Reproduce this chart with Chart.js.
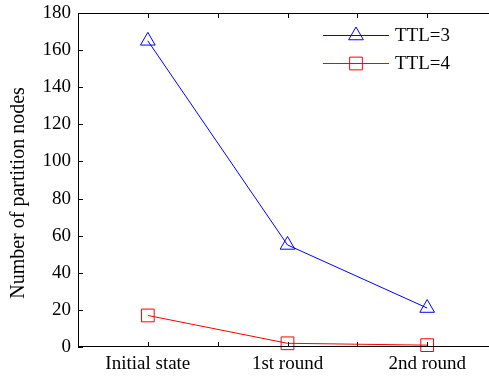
<!DOCTYPE html>
<html>
<head>
<meta charset="utf-8">
<script src="https://cdn.jsdelivr.net/npm/chart.js@4.4.1/dist/chart.umd.min.js"></script>
<style>
html,body{margin:0;padding:0;background:#fff;overflow:hidden;width:489px;height:377px;}
#wrap{width:500px;height:377px;}
</style>
</head>
<body>
<div id="wrap"><canvas id="c" width="500" height="377"></canvas></div>
<script>
const categories = ["Initial state", "1st round", "2nd round"];
const ttl3 = [165, 55, 21];
const ttl4 = [17, 2, 1];
const seriesNames = ["TTL=3", "TTL=4"];
const yTicks = [0, 20, 40, 60, 80, 100, 120, 140, 160, 180];
const xTicks = [-0.5, 0, 0.5, 1, 1.5, 2, 2.5];

const FONT = "'Liberation Serif', 'Times New Roman', serif";

function toPoints(arr){ return arr.map((v,i)=>({x:i,y:v})); }

const inwardTicks = {
  id:'inwardTicks',
  afterDraw(chart){
    const ctx = chart.ctx, a = chart.chartArea;
    const xs = chart.scales.x, ys = chart.scales.y;
    ctx.save();
    ctx.strokeStyle = '#000';
    ctx.lineWidth = 1;
    ctx.beginPath();
    ctx.moveTo(a.left+0.5, a.top+0.5);
    ctx.lineTo(a.right-0.5, a.top+0.5);
    ctx.lineTo(a.right-0.5, a.bottom-0.5);
    ctx.lineTo(a.left+0.5, a.bottom-0.5);
    ctx.closePath();
    ctx.stroke();
    const L = 5;
    ctx.beginPath();
    xs.ticks.forEach(t=>{
      const px = Math.round(xs.getPixelForValue(t.value))+0.5;
      ctx.moveTo(px, a.bottom); ctx.lineTo(px, a.bottom-L);
      ctx.moveTo(px, a.top); ctx.lineTo(px, a.top+L);
    });
    ys.ticks.forEach(t=>{
      const py = Math.round(ys.getPixelForValue(t.value))+0.5;
      ctx.moveTo(a.left, py); ctx.lineTo(a.left+L, py);
      ctx.moveTo(a.right, py); ctx.lineTo(a.right-L, py);
    });
    ctx.stroke();
    ctx.fillStyle = '#000';
    ctx.font = "20px " + FONT;
    ctx.textAlign = 'center';
    ctx.textBaseline = 'middle';
    ctx.translate(19, 193);
    ctx.rotate(-Math.PI/2);
    ctx.fillText('Number of partition nodes', 0, 0);
    ctx.restore();
    ctx.save();
    chart.data.datasets.forEach((ds,i)=>{
      const y = 35 + 28*i + 0.5;
      ctx.strokeStyle = ds.borderColor;
      ctx.lineWidth = 1;
      ctx.beginPath(); ctx.moveTo(323, y); ctx.lineTo(389, y); ctx.stroke();
      ctx.fillStyle = 'rgba(0,0,0,0)';
      Chart.helpers.drawPoint(ctx, {pointStyle: ds.pointStyle, radius: ds.pointRadius, rotation:0, borderWidth:1}, 356, y);
      ctx.fillStyle = '#000';
      ctx.font = "19px " + FONT;
      ctx.textAlign = 'left';
      ctx.textBaseline = 'middle';
      ctx.fillText(ds.label, 395, y+1);
    });
    ctx.restore();
  }
};

new Chart(document.getElementById('c'), {
  type: 'line',
  data: {
    datasets: [
      {label: seriesNames[0], data: toPoints(ttl3), borderColor:'#0000ff', backgroundColor:'rgba(0,0,0,0)',
       borderWidth:1, pointStyle:'triangle', pointRadius:8.5, pointBorderColor:'#0000ff',
       pointBackgroundColor:'rgba(0,0,0,0)', pointBorderWidth:1, tension:0},
      {label: seriesNames[1], data: toPoints(ttl4), borderColor:'#ff0000', backgroundColor:'rgba(0,0,0,0)',
       borderWidth:1, pointStyle:'rect', pointRadius:9, pointBorderColor:'#ff0000',
       pointBackgroundColor:'rgba(0,0,0,0)', pointBorderWidth:1, tension:0}
    ]
  },
  options: {
    responsive:false,
    devicePixelRatio:1,
    animation:false,
    clip:false,
    layout:{autoPadding:false, padding:{top:13, right:3, left:0, bottom:0}},
    plugins:{legend:{display:false}, tooltip:{enabled:false}},
    scales:{
      x:{
        type:'linear', min:-0.5, max:2.5,
        afterBuildTicks(s){ s.ticks = xTicks.map(v=>({value:v})); },
        afterFit(s){ s.height = 30; s.paddingLeft = 0; s.paddingRight = 0; },
        grid:{display:false, drawTicks:false},
        border:{display:false},
        ticks:{
          autoSkip:false, maxRotation:0, padding:6,
          font:{family:FONT, size:19}, color:'#000',
          callback(v){ return Number.isInteger(v) && v>=0 && v<categories.length ? categories[v] : ''; }
        }
      },
      y:{
        min:0, max:180,
        afterBuildTicks(s){ s.ticks = yTicks.map(v=>({value:v})); },
        afterFit(s){ s.width = 78; s.paddingTop = 0; s.paddingBottom = 0; },
        grid:{display:false, drawTicks:false},
        border:{display:false},
        ticks:{font:{family:FONT, size:19}, color:'#000', padding:7}
      }
    }
  },
  plugins:[inwardTicks]
});
</script>
</body>
</html>
